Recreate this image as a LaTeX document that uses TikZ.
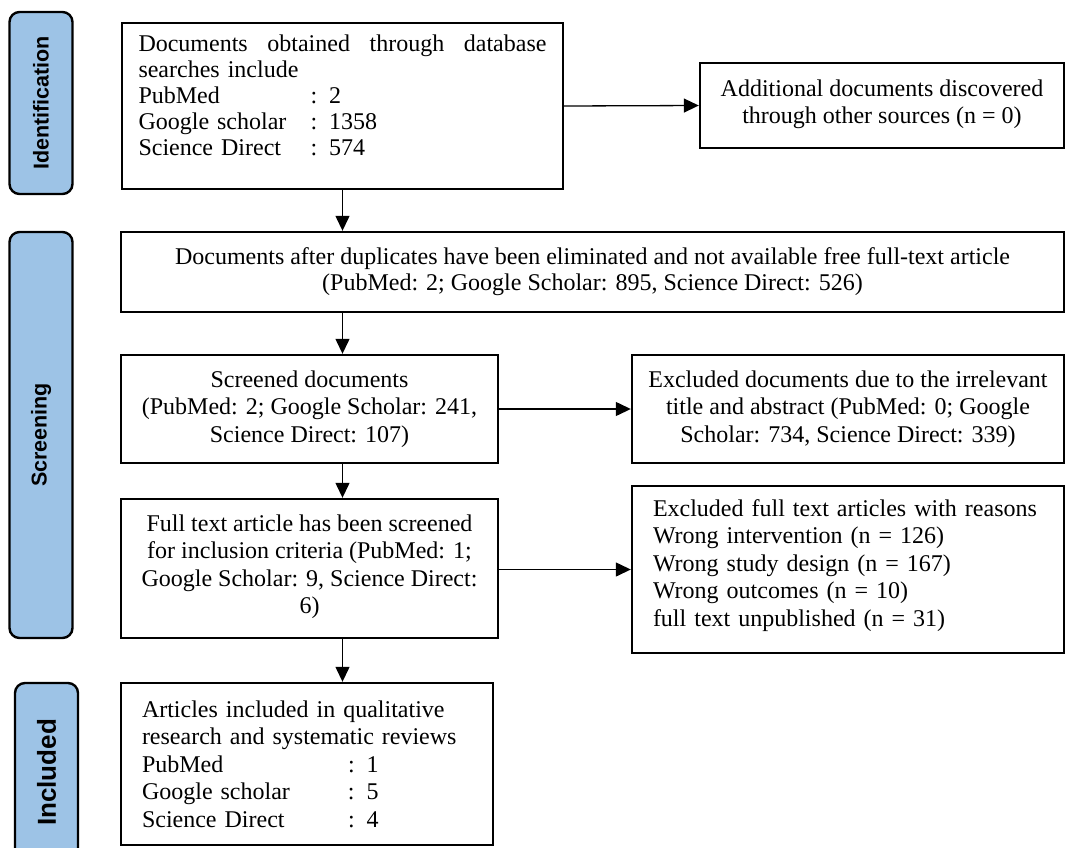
\documentclass[tikz,border=0pt]{standalone}
\usepackage{fontspec}
\setmainfont{Liberation Serif}
\newfontfamily\phaseFont{Liberation Sans}
\usepackage{tikz}
\usetikzlibrary{positioning, arrows.meta}
\tikzstyle{flowChart} = [x = 1pt, y = -1pt]
\definecolor{phaseColor}{RGB}{157,195,230}
\tikzstyle{boxStyle} = [draw, line width = 2.4pt, inner sep = 0pt]
\tikzstyle{boxText} = [inner sep = 0pt, execute at begin node = {\lineskiplimit = -50pt}]
\tikzstyle{tightText} = [boxText, font = \fontsize{24}{26}\selectfont]
\tikzstyle{wideText} = [boxText, font = \fontsize{24}{27.5}\selectfont]
\tikzstyle{phaseStyle} = [draw, fill = phaseColor, line width = 2.4pt, rounded corners = 10pt, rotate = 90, inner sep = 0pt]
\tikzstyle{arrowStyle} = [line width = 1.3pt, -{Triangle[length = 15pt, width = 14pt]}]
\newcommand{\flowBox}[8]{
  \pgfmathsetmacro{\boxWidth}{#4 - #2}
  \pgfmathsetmacro{\boxHeight}{#5 - #3}
  \pgfmathsetmacro{\boxX}{(#2 + #4) / 2}
  \pgfmathsetmacro{\boxY}{(#3 + #5) / 2}
  \node [boxStyle, minimum width = \boxWidth pt, minimum height = \boxHeight pt] (#1) at (\boxX, \boxY) {};
  \node [#6] (#1Text) at ([yshift = #7 pt] #1.center) {#8};
}
\newcommand{\phaseBar}[7]{
  \pgfmathsetmacro{\barWidth}{#4 - #2}
  \pgfmathsetmacro{\barHeight}{#5 - #3}
  \pgfmathsetmacro{\barX}{(#2 + #4) / 2}
  \pgfmathsetmacro{\barY}{(#3 + #5) / 2}
  \node [phaseStyle, minimum width = \barHeight pt, minimum height = \barWidth pt, font = \phaseFont\bfseries\fontsize{#6}{#6}\selectfont] (#1) at (\barX, \barY) {#7};
}
\newcommand{\countRow}[3]{\makebox[#1][l]{#2}: #3}

\begin{document}
\begin{tikzpicture}[flowChart]
  \clip (0, 0) rectangle (1066, 847);
  \phaseBar{identBar}{9.5}{12}{72.5}{194}{21.5}{Identification}
  \phaseBar{screenBar}{9.5}{232}{72.5}{638}{21.5}{Screening}
  \phaseBar{inclBar}{15}{683}{78}{862}{26}{Included}
  \flowBox{db}{122}{23}{563}{189}{tightText, text width = 408pt, align = left}{11}{\hbox to 408pt{Documents\hfill obtained\hfill through\hfill database}\\searches include\\\countRow{172pt}{PubMed}{2}\\\countRow{172pt}{Google scholar}{1358}\\\countRow{172pt}{Science Direct}{574}}
  \flowBox{other}{700}{63}{1064}{148}{wideText, align = center}{1}{Additional documents discovered\\through other sources (n = 0)}
  \flowBox{dup}{121}{232}{1064}{312}{tightText, align = center}{0}{Documents after duplicates have been eliminated and not available free full-text article\\(PubMed: 2; Google Scholar: 895, Science Direct: 526)}
  \flowBox{scr}{121}{355}{498}{463}{wideText, align = center}{0}{Screened documents\\(PubMed: 2; Google Scholar: 241,\\Science Direct: 107)}
  \flowBox{excl1}{632}{355}{1064}{463}{wideText, align = center}{0}{Excluded documents due to the irrelevant\\title and abstract (PubMed: 0; Google\\Scholar: 734, Science Direct: 339)}
  \flowBox{full}{121}{499}{498}{638}{wideText, align = center}{2}{Full text article has been screened\\for inclusion criteria (PubMed: 1;\\Google Scholar: 9, Science Direct:\\6)}
  \flowBox{excl2}{632}{486}{1064}{653}{wideText, text width = 390pt, align = left}{4}{Excluded full text articles with reasons\\Wrong intervention (n = 126)\\Wrong study design (n = 167)\\Wrong outcomes (n = 10)\\full text unpublished (n = 31)}
  \flowBox{art}{121}{683}{493}{845}{wideText, text width = 330pt, align = left}{0}{Articles included in qualitative\\research and systematic reviews\\\countRow{206pt}{PubMed}{1}\\\countRow{206pt}{Google scholar}{5}\\\countRow{206pt}{Science Direct}{4}}
  \draw [arrowStyle] (db.east) -- (other.west);
  \draw [arrowStyle] (db.south) -- (db.south |- dup.north);
  \draw [arrowStyle] (dup.south -| db.south) -- (db.south |- scr.north);
  \draw [arrowStyle] (scr.south -| db.south) -- (db.south |- full.north);
  \draw [arrowStyle] (full.south -| db.south) -- (db.south |- art.north);
  \draw [arrowStyle] (scr.east) -- (excl1.west);
  \draw [arrowStyle] (full.east |- excl2.west) -- (excl2.west);
\end{tikzpicture}
\end{document}
